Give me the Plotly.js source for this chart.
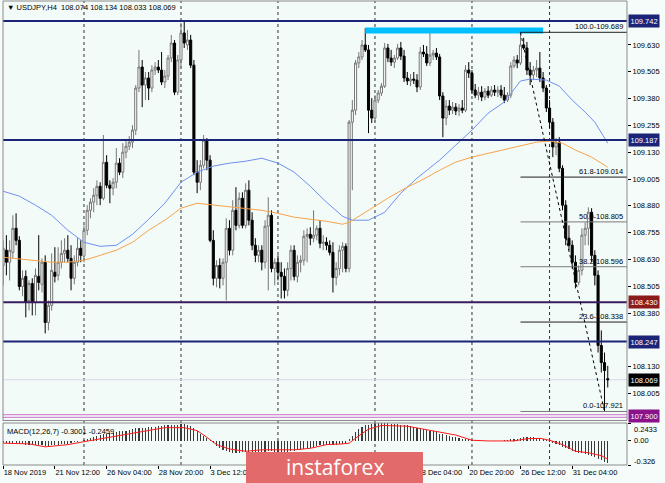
<!DOCTYPE html>
<html><head><meta charset="utf-8">
<script src="https://cdn.plot.ly/plotly-3.0.1.min.js"></script>
<style>html,body{margin:0;padding:0;background:#fff}#chart{width:665px;height:483px}</style>
</head><body><div id="chart"></div>
<script>
// ---------------- DATA ----------------
const symbol = 'USDJPY,H4';
const open = [
108.602,108.673,108.617,108.663,108.775,108.719,108.504,108.551,108.439,108.518,
108.430,108.551,108.514,108.617,108.336,108.416,108.570,108.556,108.617,108.658,
108.673,108.635,108.542,108.617,108.682,108.645,108.766,108.859,108.897,108.929,
108.971,108.915,109.083,108.976,108.962,108.990,109.079,109.037,109.130,109.158,
109.177,109.233,109.429,109.527,109.443,109.476,109.429,109.513,109.527,109.513,
109.457,109.485,109.569,109.639,109.410,109.560,109.686,109.630,109.653,109.536,
109.037,108.990,109.069,109.186,109.093,108.719,108.542,108.602,108.542,108.617,
108.775,108.673,108.859,108.789,108.915,108.789,108.953,108.813,108.696,108.649,
108.673,108.617,108.785,108.836,108.588,108.617,108.570,108.551,108.486,108.588,
108.673,108.551,108.617,108.626,108.738,108.747,108.729,108.743,108.775,108.705,
108.710,108.696,108.663,108.546,108.588,108.673,108.691,108.588,109.270,109.326,
109.546,109.574,109.630,109.607,109.326,109.289,109.373,109.406,109.438,109.616,
109.569,109.550,109.569,109.616,109.578,109.476,109.462,109.471,109.466,109.434,
109.597,109.588,109.546,109.583,109.592,109.574,109.392,109.289,109.345,109.326,
109.340,109.322,109.336,109.326,109.513,109.499,109.420,109.396,109.410,109.387,
109.415,109.396,109.420,109.410,109.420,109.396,109.373,109.396,109.532,109.560,
109.546,109.630,109.616,109.513,109.490,109.513,109.522,109.476,109.429,109.336,
109.270,109.154,109.177,109.055,108.883,108.729,108.696,108.617,108.523,108.579,
108.743,108.775,108.850,108.649,108.556,108.229,108.149,108.074];
const high = [
108.719,108.743,108.719,108.836,108.845,108.738,108.579,108.579,108.532,108.542,
108.588,108.743,108.635,108.649,108.439,108.658,108.687,108.687,108.719,108.729,
108.743,108.696,108.649,108.729,108.719,108.789,108.883,108.915,108.962,108.999,
108.990,109.210,109.116,108.999,109.009,109.149,109.102,109.172,109.186,109.205,
109.256,109.443,109.607,109.560,109.504,109.504,109.536,109.550,109.560,109.597,
109.513,109.583,109.677,109.653,109.583,109.733,109.737,109.700,109.677,109.560,
109.093,109.093,109.210,109.196,109.116,108.766,108.626,108.635,108.635,108.822,
108.813,108.906,108.967,108.943,108.943,108.985,108.999,108.850,108.729,108.696,
108.696,108.813,108.920,108.859,108.635,108.649,108.617,108.588,108.617,108.696,
108.696,108.649,108.649,108.766,108.775,108.780,108.859,108.789,108.813,108.743,
108.733,108.719,108.710,108.617,108.696,108.710,108.705,109.280,109.373,109.560,
109.597,109.653,109.709,109.630,109.382,109.396,109.420,109.452,109.639,109.635,
109.607,109.583,109.635,109.644,109.607,109.504,109.494,109.504,109.494,109.621,
109.630,109.625,109.686,109.607,109.616,109.588,109.410,109.373,109.373,109.364,
109.359,109.354,109.373,109.536,109.550,109.513,109.448,109.434,109.438,109.429,
109.438,109.438,109.443,109.438,109.443,109.434,109.410,109.550,109.578,109.583,
109.689,109.663,109.644,109.550,109.532,109.560,109.597,109.504,109.443,109.373,
109.289,109.196,109.200,109.069,108.906,108.789,108.719,108.649,108.602,108.775,
108.803,108.873,108.869,108.673,108.579,108.299,108.196,108.134];
const low = [
108.509,108.556,108.532,108.635,108.696,108.486,108.458,108.360,108.392,108.369,
108.369,108.486,108.476,108.285,108.299,108.392,108.523,108.532,108.588,108.617,
108.617,108.486,108.514,108.598,108.617,108.617,108.743,108.822,108.850,108.883,
108.883,108.906,108.962,108.892,108.929,108.962,109.023,109.009,109.102,109.140,
109.149,109.210,109.410,109.340,109.373,109.373,109.410,109.490,109.499,109.443,
109.429,109.466,109.550,109.396,109.396,109.522,109.616,109.607,109.522,109.023,
108.939,108.953,109.055,109.046,108.710,108.509,108.500,108.495,108.509,108.439,
108.649,108.649,108.766,108.775,108.775,108.775,108.789,108.673,108.617,108.617,
108.579,108.588,108.486,108.570,108.509,108.532,108.448,108.448,108.458,108.532,
108.532,108.523,108.570,108.602,108.617,108.696,108.710,108.719,108.682,108.673,
108.673,108.649,108.476,108.509,108.556,108.570,108.570,108.570,108.953,109.303,
109.522,109.560,109.597,109.219,109.266,109.270,109.359,109.392,109.429,109.550,
109.532,109.522,109.560,109.560,109.457,109.443,109.438,109.448,109.410,109.420,
109.574,109.532,109.532,109.560,109.560,109.373,109.200,109.256,109.303,109.308,
109.303,109.298,109.312,109.317,109.476,109.401,109.382,109.373,109.368,109.373,
109.382,109.387,109.392,109.387,109.382,109.359,109.364,109.382,109.522,109.522,
109.536,109.607,109.490,109.443,109.466,109.480,109.457,109.410,109.317,109.242,
109.107,109.116,109.037,108.859,108.696,108.673,108.588,108.495,108.509,108.556,
108.696,108.696,108.617,108.509,108.196,108.103,107.921,108.033];
const close = [
108.682,108.617,108.673,108.775,108.719,108.504,108.542,108.430,108.518,108.430,
108.556,108.523,108.617,108.336,108.416,108.579,108.551,108.617,108.658,108.673,
108.635,108.542,108.617,108.682,108.649,108.766,108.859,108.897,108.929,108.971,
108.915,109.083,108.976,108.962,108.990,109.079,109.037,109.130,109.158,109.177,
109.233,109.429,109.527,109.443,109.476,109.429,109.513,109.527,109.513,109.457,
109.485,109.569,109.639,109.410,109.560,109.686,109.639,109.653,109.536,109.037,
108.990,109.069,109.186,109.093,108.719,108.542,108.602,108.542,108.617,108.775,
108.673,108.859,108.789,108.915,108.789,108.953,108.813,108.696,108.649,108.673,
108.617,108.785,108.836,108.588,108.617,108.570,108.551,108.486,108.588,108.673,
108.551,108.617,108.626,108.738,108.747,108.729,108.743,108.775,108.705,108.710,
108.696,108.663,108.546,108.588,108.673,108.691,108.588,109.270,109.326,109.546,
109.574,109.630,109.607,109.326,109.289,109.373,109.406,109.438,109.616,109.569,
109.550,109.569,109.616,109.578,109.476,109.462,109.471,109.466,109.434,109.597,
109.588,109.546,109.583,109.592,109.574,109.392,109.289,109.345,109.326,109.340,
109.322,109.336,109.326,109.513,109.499,109.420,109.396,109.410,109.387,109.415,
109.396,109.420,109.410,109.420,109.396,109.373,109.396,109.532,109.560,109.546,
109.630,109.616,109.513,109.490,109.513,109.522,109.476,109.429,109.336,109.270,
109.154,109.177,109.055,108.883,108.729,108.696,108.617,108.523,108.579,108.743,
108.775,108.850,108.649,108.556,108.229,108.149,108.112,108.069];

const macdHist = [
-0.03,-0.03,-0.04,-0.03,-0.03,-0.04,-0.04,-0.05,-0.05,-0.06,-0.06,-0.06,-0.06,-0.07,-0.07,-0.06,-0.05,-0.05,-0.04,-0.04,-0.04,-0.03,-0.02,-0.01,
0.00,0.01,0.03,0.04,0.06,0.07,0.08,0.09,0.10,0.11,0.11,0.12,0.13,0.14,0.14,0.15,0.16,0.17,0.18,0.18,0.18,0.19,0.19,
0.19,0.20,0.20,0.21,0.21,0.21,0.22,0.22,0.23,0.23,0.22,
0.20,0.18,0.14,0.10,0.07,0.04,0.01,
-0.03,-0.07,-0.10,-0.12,-0.14,-0.15,-0.16,-0.16,
-0.16,-0.15,-0.15,-0.15,-0.16,-0.16,-0.16,-0.15,-0.15,-0.14,-0.14,-0.15,-0.15,-0.16,-0.16,-0.15,-0.14,-0.13,-0.12,-0.12,
-0.11,-0.10,-0.09,-0.08,-0.07,-0.06,-0.06,-0.05,-0.05,-0.05,-0.05,-0.04,-0.04,-0.04,
0.02,0.07,0.12,0.16,0.19,0.21,0.22,0.23,0.24,0.24,
0.2433,0.24,0.24,0.23,0.23,0.23,0.22,0.21,0.21,0.20,
0.19,0.18,0.17,0.16,0.15,0.14,0.13,0.12,0.10,0.09,0.08,0.07,0.06,0.05,0.04,0.03,0.02,0.02,0.01,
0.01,0.00,0.00,0.00,0.00,0.00,0.00,0.00,0.00,0.01,0.01,0.02,0.02,
0.03,0.04,0.05,0.05,0.05,0.05,0.04,0.04,0.03,0.01,
-0.01,-0.03,-0.04,-0.06,-0.08,-0.10,-0.11,-0.13,-0.15,-0.16,-0.17,-0.18,-0.19,-0.21,-0.22,-0.24,-0.26,-0.28,-0.3001];
const signalBars = [0,8,13,20,25,30,37,45,50,56,60,63,66,70,75,80,90,95,100,105,107,110,113,117,125,130,135,140,145,150,158,162,166,169,173,177,181,185,187];
const signalVals = [-0.03,-0.04,-0.08,-0.05,-0.01,0.03,0.08,0.15,0.18,0.18,0.14,0.05,-0.05,-0.11,-0.14,-0.12,-0.12,-0.10,-0.05,-0.04,-0.03,0.07,0.16,0.21,0.20,0.16,0.12,0.08,0.01,0.00,0.00,0.03,0.035,0.01,-0.05,-0.14,-0.16,-0.20,-0.2459];

const maBlueBars = [0,5,10,15,20,25,30,35,40,45,50,55,60,65,70,75,80,85,90,95,100,105,108,113,118,123,128,135,140,145,150,155,160,163,168,172,176,180,183,187];
const maBlueVals = [108.948,108.925,108.883,108.836,108.766,108.710,108.691,108.696,108.747,108.817,108.892,108.990,109.037,109.065,109.079,109.088,109.102,109.079,109.037,108.971,108.897,108.831,108.813,108.813,108.850,108.939,109.009,109.093,109.163,109.233,109.312,109.364,109.462,109.471,109.466,109.438,109.373,109.317,109.270,109.172];
const maOrangeBars = [0,10,15,20,25,30,35,40,45,50,55,60,63,68,75,80,85,90,100,105,107,110,115,120,125,130,135,140,145,150,155,160,165,169,173,177,182,187];
const maOrangeVals = [108.640,108.626,108.617,108.617,108.626,108.649,108.673,108.710,108.766,108.813,108.869,108.892,108.887,108.878,108.869,108.859,108.845,108.827,108.808,108.794,108.803,108.831,108.878,108.925,108.967,109.004,109.046,109.084,109.107,109.125,109.140,109.158,109.177,109.182,109.172,109.140,109.107,109.060];

const timeTickBars = [0,16,32,48,64,80,96,112,128,144,160,176];
const timeTickLabels = ['18 Nov 2019','21 Nov 12:00','26 Nov 04:00','28 Nov 20:00','3 Dec 12:00','6 Dec 04:00','10 Dec 20:00','13 Dec 12:00','18 Dec 04:00','20 Dec 20:00','26 Dec 12:00','31 Dec 04:00'];
const weekStartBars = [25,55,85,115,145,169];
const priceTicks = [109.630,109.505,109.380,109.255,109.130,109.005,108.880,108.755,108.630,108.505,108.380,108.130,108.005];
const macdTicks = [0.2433,0,-0.326];
const macdTickText = ['0.2433','0.00','-0.326'];

const levels = [109.742,109.187,108.430,108.247];
const levelKinds = ['blue','blue','red','blue'];
const bidPrice = 108.069;
const alertPrice = 107.900;
const fibPct = ['100.0','61.8','50.0','38.2','23.6','0.0'];
const fibVals = [109.689,109.014,108.805,108.596,108.338,107.921];
const fibStartBar = 160, fibEndBar = 186;
const zonePrice = 109.697, zoneStartBar = 112, zoneEndBar = 167;
const macdName = 'MACD(12,26,7)';
const watermark = 'instaforex';

// ---------------- LAYOUT ----------------
const W = 665, H = 483, mL = 3, mR = 38, mT = 1, mB = 18;
const pw = W - mL - mR, ph = H - mT - mB;
const py = y => (H - mB - y) / ph;      // pixel row -> paper y
const px = x => (x - mL) / pw;          // pixel col -> paper x
const xRange = [-0.05, 192.95];
const mainDom = [py(420.5), 1];
const macdDom = [0, py(423)];
const bars = close.map((c, i) => i);
const FONT = 'Liberation Sans, Arial, sans-serif';
const NAVY = '#1c2478';
const BG = '#f3fbf8';

const traces = [
  {type:'candlestick', x:bars, open:open, high:high, low:low, close:close, xaxis:'x', yaxis:'y',
   increasing:{line:{color:'#767676', width:1}, fillcolor:'#ffffff'},
   decreasing:{line:{color:'#000000', width:1}, fillcolor:'#000000'},
   whiskerwidth:0, hoverinfo:'skip', showlegend:false},
  {type:'scatter', mode:'lines', x:maBlueBars, y:maBlueVals, xaxis:'x', yaxis:'y',
   line:{color:'#6f8ff0', width:1}, hoverinfo:'skip', showlegend:false},
  {type:'scatter', mode:'lines', x:maOrangeBars, y:maOrangeVals, xaxis:'x', yaxis:'y',
   line:{color:'#f6a24a', width:1}, hoverinfo:'skip', showlegend:false},
  {type:'bar', x:bars, y:macdHist, xaxis:'x', yaxis:'y2', width:0.35,
   marker:{color:'#3a3a3a', line:{width:0}}, hoverinfo:'skip', showlegend:false},
  {type:'scatter', mode:'lines', x:signalBars, y:signalVals, xaxis:'x', yaxis:'y2',
   line:{color:'#ff1a1a', width:1}, hoverinfo:'skip', showlegend:false}
];

const shapes = [];
const annotations = [];
weekStartBars.forEach(b => shapes.push({type:'line', xref:'x', yref:'paper', x0:b, x1:b, y0:0, y1:1,
  line:{color:'#303030', width:1, dash:'dot'}, layer:'below'}));
shapes.push({type:'line', xref:'x', yref:'y', x0:zoneStartBar, x1:zoneEndBar, y0:zonePrice, y1:zonePrice,
  line:{color:'#00bfff', width:6}});
const boxFont = {family:FONT, size:7.5, color:'#ffffff'};
levels.forEach((v, i) => {
  shapes.push({type:'line', xref:'paper', yref:'y', x0:0, x1:1, y0:v, y1:v,
    line:{color: levelKinds[i] === 'red' ? '#3a1c5e' : NAVY, width:2}});
  annotations.push({xref:'paper', yref:'y', x:1, y:v, xanchor:'left', xshift:1, yanchor:'middle',
    text:v.toFixed(3), showarrow:false, font:boxFont,
    bgcolor: levelKinds[i] === 'red' ? '#8c1c1c' : NAVY, borderpad:1.5});
});
shapes.push({type:'line', xref:'paper', yref:'y', x0:0, x1:1, y0:bidPrice, y1:bidPrice, line:{color:'#d6d6ee', width:1}, layer:'below'});
annotations.push({xref:'paper', yref:'y', x:1, y:bidPrice, xanchor:'left', xshift:1, yanchor:'middle',
  text:bidPrice.toFixed(3), showarrow:false, font:boxFont, bgcolor:'#000000', borderpad:1.5});
shapes.push({type:'line', xref:'paper', yref:'y', x0:0, x1:1, y0:alertPrice, y1:alertPrice, line:{color:'#d48ad4', width:4}});
shapes.push({type:'line', xref:'paper', yref:'y', x0:0, x1:1, y0:alertPrice, y1:alertPrice, line:{color:BG, width:1.5}});
annotations.push({xref:'paper', yref:'y', x:1, y:alertPrice, xanchor:'left', xshift:1, yanchor:'middle',
  text:alertPrice.toFixed(3), showarrow:false, font:boxFont, bgcolor:'#8a128a', borderpad:1.5});
fibVals.forEach((v, i) => {
  const grey = (i === 2 || i === 3 || i === 5);
  shapes.push({type:'line', xref:'x', yref:'y', x0:fibStartBar, x1:xRange[1], y0:v, y1:v,
    line:{color: grey ? '#7a7a7a' : '#202020', width:1}});
  annotations.push({xref:'paper', yref:'y', x:1, y:v, xanchor:'right', yanchor:'bottom', xshift:-2, yshift:-1,
    text:fibPct[i] + '-' + v.toFixed(3), showarrow:false, font:{family:FONT, size:7.5, color:'#000'}});
});
shapes.push({type:'line', xref:'x', yref:'y', x0:fibStartBar, x1:fibEndBar, y0:fibVals[0], y1:fibVals[fibVals.length-1],
  line:{color:'#000', width:1, dash:'dot'}});
shapes.push({type:'rect', xref:'paper', yref:'paper', x0:0, x1:1, y0:mainDom[0], y1:1, line:{color:'#8a8a8a', width:1}});
shapes.push({type:'rect', xref:'paper', yref:'paper', x0:0, x1:1, y0:0, y1:macdDom[1], line:{color:'#8a8a8a', width:1}});
const macdShift = [-6, 0, 4];
macdTicks.forEach((v, i) => annotations.push({xref:'paper', yref:'y2', x:1, y:v, xanchor:'left', xshift:5, yshift:macdShift[i],
  yanchor:'middle', text:macdTickText[i], showarrow:false, font:{family:FONT, size:7.5, color:'#000'}}));
const last = close.length - 1;
annotations.push({xref:'paper', yref:'paper', x:px(5), y:py(8), xanchor:'left', yanchor:'middle', showarrow:false,
  text:'\u25BC ' + symbol + '  ' + [open[last], high[last], low[last], close[last]].map(v => v.toFixed(3)).join(' '),
  font:{family:FONT, size:7.5, color:'#000'}});
annotations.push({xref:'paper', yref:'paper', x:px(5), y:py(431), xanchor:'left', yanchor:'middle', showarrow:false,
  text:macdName + ' ' + macdHist[last].toFixed(4) + ' ' + signalVals[signalVals.length-1].toFixed(4),
  font:{family:FONT, size:7.5, color:'#000'}});
shapes.push({type:'rect', xref:'paper', yref:'paper', x0:px(246), x1:px(423), y0:py(483), y1:py(452),
  fillcolor:'#e36a6a', line:{width:0}, layer:'above'});
annotations.push({xref:'paper', yref:'paper', x:px(334.5), y:py(467.5), xanchor:'center', yanchor:'middle', showarrow:false,
  text:watermark, font:{family:'Open Sans, sans-serif', size:21, color:'#ffffff'}});

const layout = {
  width:W, height:H, margin:{l:mL, r:mR, t:mT, b:mB},
  paper_bgcolor:'#f5fcf9', plot_bgcolor:BG,
  showlegend:false, boxgap:0.2, boxgroupgap:0.2, bargap:0,
  xaxis:{anchor:'y2', range:xRange, showgrid:false, zeroline:false, rangeslider:{visible:false},
    tickmode:'array', tickvals:timeTickBars, ticktext:timeTickLabels, ticks:'outside', ticklen:3,
    tickcolor:'#000', tickangle:0, ticklabelposition:'outside right', tickfont:{family:FONT, size:7.5, color:'#000'},
    showline:false, fixedrange:true, automargin:false},
  yaxis:{domain:mainDom, range:[107.879, 109.835], side:'right', showgrid:false, zeroline:false,
    tickmode:'array', tickvals:priceTicks, tickformat:'.3f', ticks:'outside', ticklen:3, tickcolor:'#000',
    tickfont:{family:FONT, size:7.5, color:'#000'}, showline:false, fixedrange:true},
  yaxis2:{domain:macdDom, range:[-0.326, 0.2433], side:'right', showgrid:false, zeroline:false,
    tickmode:'array', tickvals:macdTicks, ticks:'outside', ticklen:3, tickcolor:'#000',
    showticklabels:false, showline:false, fixedrange:true},
  shapes:shapes, annotations:annotations
};
Plotly.newPlot('chart', traces, layout, {staticPlot:true, displayModeBar:false});
</script></body></html>
